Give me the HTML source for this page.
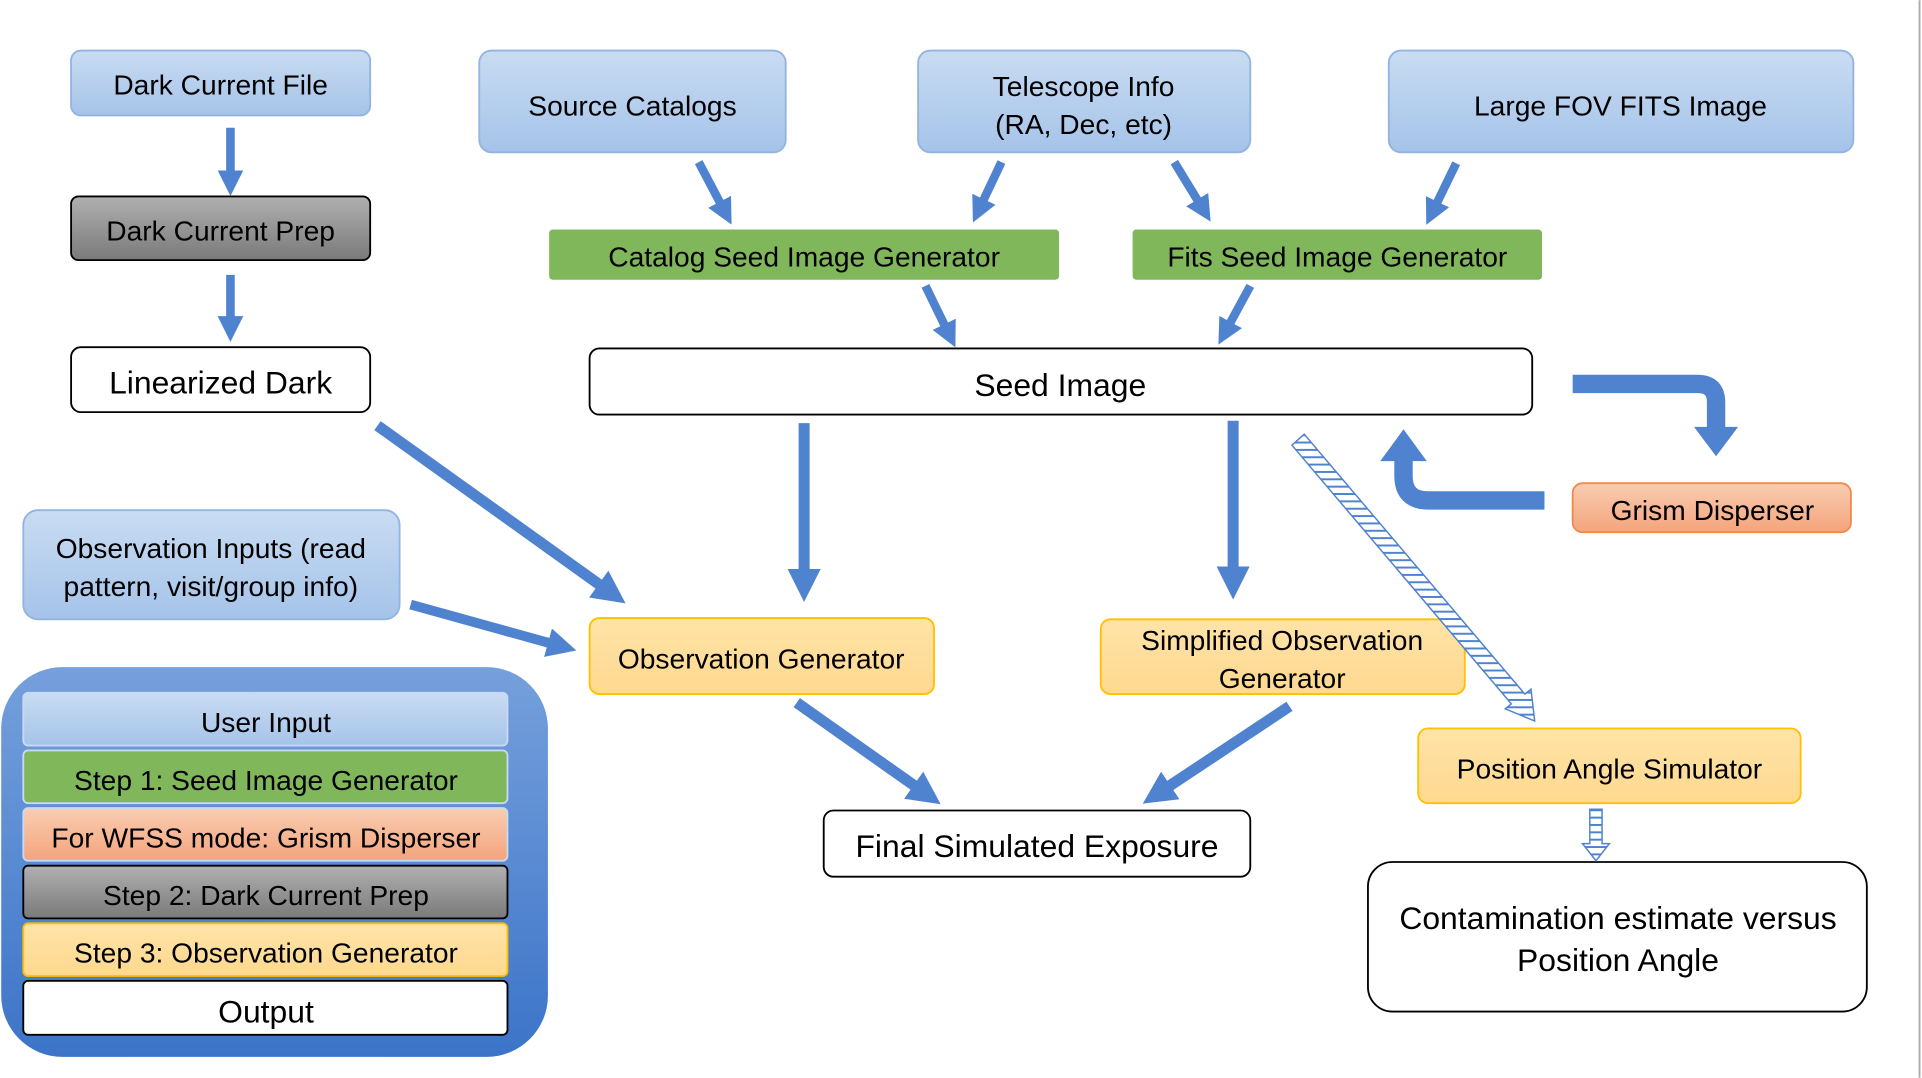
<!DOCTYPE html>
<html><head><meta charset="utf-8"><style>
html,body{margin:0;padding:0;background:#fff;}
svg{display:block;}
text{font-family:"Liberation Sans",sans-serif;fill:#000;text-anchor:middle;dominant-baseline:middle;}
</style></head><body>
<svg width="1922" height="1078" viewBox="0 0 1568 879" xmlns="http://www.w3.org/2000/svg">
<defs>
<linearGradient id="gb" x1="0" y1="0" x2="0" y2="1"><stop offset="0" stop-color="#c9dcf2"/><stop offset="1" stop-color="#a5c3e9"/></linearGradient>
<linearGradient id="gg" x1="0" y1="0" x2="0" y2="1"><stop offset="0" stop-color="#b0b0b0"/><stop offset="1" stop-color="#7a7a7a"/></linearGradient>
<linearGradient id="go" x1="0" y1="0" x2="0" y2="1"><stop offset="0" stop-color="#f9cdb2"/><stop offset="1" stop-color="#f4a47c"/></linearGradient>
<linearGradient id="gy" x1="0" y1="0" x2="0" y2="1"><stop offset="0" stop-color="#ffe3a8"/><stop offset="1" stop-color="#fed98f"/></linearGradient>
<linearGradient id="gl" x1="0" y1="0" x2="0" y2="1"><stop offset="0" stop-color="#76a0dc"/><stop offset="1" stop-color="#3c74c8"/></linearGradient>
<marker id="ah" viewBox="0 0 10 10" refX="3" refY="5" markerWidth="3" markerHeight="3" orient="auto"><path d="M0,0 L10,5 L0,10 z" fill="#4f83cf"/></marker>
<pattern id="hatch" width="6" height="6" patternUnits="userSpaceOnUse"><rect width="6" height="6" fill="#fff"/><rect width="6" height="1.6" fill="#4f83cf"/></pattern>
</defs>
<line x1="1566" y1="0" x2="1566" y2="879" stroke="#aaa" stroke-width="1.5"/>

<g font-size="23">
<rect x="58" y="41" width="244" height="53" rx="8" fill="url(#gb)" stroke="#92b4e0" stroke-width="1.5"/>
<text x="180" y="71">Dark Current File</text>
<rect x="391" y="41" width="250" height="83" rx="10" fill="url(#gb)" stroke="#92b4e0" stroke-width="1.5"/>
<text x="516" y="88">Source Catalogs</text>
<rect x="749" y="41" width="271" height="83" rx="10" fill="url(#gb)" stroke="#92b4e0" stroke-width="1.5"/>
<text x="884" y="72">Telescope Info</text>
<text x="884" y="103">(RA, Dec, etc)</text>
<rect x="1133" y="41" width="379" height="83" rx="10" fill="url(#gb)" stroke="#92b4e0" stroke-width="1.5"/>
<text x="1322" y="88">Large FOV FITS Image</text>

<rect x="58" y="160" width="244" height="52" rx="6" fill="url(#gg)" stroke="#000" stroke-width="1.5"/>
<text x="180" y="190">Dark Current Prep</text>
<rect x="448" y="187" width="416" height="41" rx="3" fill="#80b75a"/>
<text x="656" y="211">Catalog Seed Image Generator</text>
<rect x="924" y="187" width="334" height="41" rx="3" fill="#80b75a"/>
<text x="1091" y="211">Fits Seed Image Generator</text>

<rect x="58" y="283" width="244" height="53" rx="8" fill="#fff" stroke="#000" stroke-width="1.5"/>
<text x="180" y="314" font-size="26">Linearized Dark</text>
<rect x="481" y="284" width="769" height="54" rx="8" fill="#fff" stroke="#000" stroke-width="1.5"/>
<text x="865" y="316" font-size="26">Seed Image</text>

<rect x="1283" y="394" width="227" height="40" rx="8" fill="url(#go)" stroke="#f08a4b" stroke-width="1.5"/>
<text x="1397" y="418">Grism Disperser</text>
<rect x="19" y="416" width="307" height="89" rx="12" fill="url(#gb)" stroke="#92b4e0" stroke-width="1.5"/>
<text x="172" y="449">Observation Inputs (read</text>
<text x="172" y="480">pattern, visit/group info)</text>

<rect x="481" y="504" width="281" height="62" rx="8" fill="url(#gy)" stroke="#ffc000" stroke-width="1.5"/>
<text x="621" y="539">Observation Generator</text>
<rect x="898" y="505" width="297" height="61" rx="8" fill="url(#gy)" stroke="#ffc000" stroke-width="1.5"/>
<text x="1046" y="524">Simplified Observation</text>
<text x="1046" y="555">Generator</text>
<rect x="1157" y="594" width="312" height="61" rx="8" fill="url(#gy)" stroke="#ffc000" stroke-width="1.5"/>
<text x="1313" y="629">Position Angle Simulator</text>
<rect x="672" y="661" width="348" height="54" rx="8" fill="#fff" stroke="#000" stroke-width="1.5"/>
<text x="846" y="692" font-size="26">Final Simulated Exposure</text>
<rect x="1116" y="703" width="407" height="122" rx="20" fill="#fff" stroke="#000" stroke-width="1.5"/>
<text x="1320" y="751" font-size="26">Contamination estimate versus</text>
<text x="1320" y="785" font-size="26">Position Angle</text>

<!-- legend -->
<rect x="1" y="544" width="446" height="318" rx="50" fill="url(#gl)"/>
<rect x="19" y="565" width="395" height="43" rx="4" fill="url(#gb)" stroke="#c8daf3" stroke-width="1.5"/>
<text x="217" y="591">User Input</text>
<rect x="19" y="612" width="395" height="43" rx="4" fill="#80b75a" stroke="#c8daf3" stroke-width="1.5"/>
<text x="217" y="638">Step 1: Seed Image Generator</text>
<rect x="19" y="659" width="395" height="43" rx="4" fill="url(#go)" stroke="#c8daf3" stroke-width="1.5"/>
<text x="217" y="685">For WFSS mode: Grism Disperser</text>
<rect x="19" y="706" width="395" height="43" rx="4" fill="url(#gg)" stroke="#000" stroke-width="1.5"/>
<text x="217" y="732">Step 2: Dark Current Prep</text>
<rect x="19" y="753" width="395" height="43" rx="4" fill="url(#gy)" stroke="#ffc000" stroke-width="1.5"/>
<text x="217" y="779">Step 3: Observation Generator</text>
<rect x="19" y="800" width="395" height="44" rx="4" fill="#fff" stroke="#000" stroke-width="1.5"/>
<text x="217" y="827" font-size="26">Output</text>
</g>

<!-- arrows -->
<g stroke="#4f83cf" stroke-width="7" marker-end="url(#ah)" fill="none">
<line x1="188" y1="104" x2="188" y2="145"/>
<line x1="188" y1="224" x2="188" y2="264"/>
<line x1="570" y1="132" x2="590" y2="170"/>
<line x1="817" y1="132" x2="800" y2="168"/>
<line x1="958" y1="132" x2="980" y2="168"/>
<line x1="1188" y1="133" x2="1170" y2="170"/>
<line x1="755" y1="233" x2="773" y2="270"/>
<line x1="1020" y1="233" x2="1001" y2="268"/>
<line x1="308" y1="347" x2="495" y2="481" stroke-width="9"/>
<line x1="335" y1="493" x2="454" y2="526" stroke-width="8"/>
<line x1="656" y1="345" x2="656" y2="472" stroke-width="9"/>
<line x1="1006" y1="343" x2="1006" y2="470" stroke-width="9"/>
<line x1="650" y1="573" x2="752" y2="645" stroke-width="9"/>
<line x1="1052" y1="576" x2="948" y2="645" stroke-width="9"/>
</g>
<path d="M1283,313 L1385,313 Q1400,313 1400,328 L1400,350" stroke="#4f83cf" stroke-width="15" fill="none"/>
<polygon points="1382,348 1418,348 1400,372" fill="#4f83cf"/>
<path d="M1260,408 L1165,408 Q1145,408 1145,388 L1145,374" stroke="#4f83cf" stroke-width="15" fill="none"/>
<polygon points="1126,376 1164,376 1145,350" fill="#4f83cf"/>
<polygon points="1054,363 1064,354 1244,566 1249,562 1252,588 1228,578 1233,574" fill="url(#hatch)" stroke="#4f83cf" stroke-width="1.2"/>
<polygon points="1297,660 1307,660 1307,688 1313,688 1302,702 1291,688 1297,688" fill="url(#hatch)" stroke="#4f83cf" stroke-width="1.2"/>
</svg>
</body></html>
